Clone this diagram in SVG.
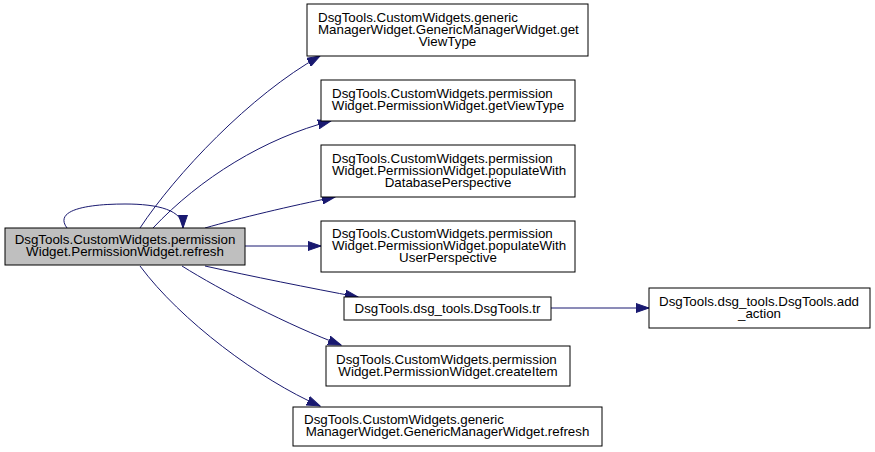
<svg xmlns="http://www.w3.org/2000/svg" width="875" height="452" viewBox="0 0 875 452">
<style>
.node rect{fill:#ffffff;stroke:#000000;stroke-width:1}
#main rect{fill:#bfbfbf}
text{font-family:"Liberation Sans",Arial,Helvetica,sans-serif;font-size:13.33px;fill:#000000}
.c{text-anchor:middle}
.edge path{fill:none;stroke:#191970;stroke-width:1}
</style>
<defs>
<marker id="ah" markerUnits="userSpaceOnUse" markerWidth="14" markerHeight="10" refX="13" refY="5" orient="auto">
<path d="M0,0.5 L13,5 L0,9.5 z" fill="#191970" stroke="#191970" stroke-width="1"/>
</marker>
</defs>
<rect width="875" height="452" fill="#ffffff"/>
<g id="connectors" class="edge">
<path d="M67,228 C52,208 95,204 125,204 C158,204 183,210 183,228" marker-end="url(#ah)"/>
<path d="M140,228 C175,175 250,95 320,56" marker-end="url(#ah)"/>
<path d="M153,228 C200,178 265,138 331,121" marker-end="url(#ah)"/>
<path d="M205,228 C240,218 290,206 335,197" marker-end="url(#ah)"/>
<path d="M245,246 L321,246" marker-end="url(#ah)"/>
<path d="M205,266 C250,276 310,288 358,297" marker-end="url(#ah)"/>
<path d="M182,266 C220,290 290,326 341,345" marker-end="url(#ah)"/>
<path d="M140,266 C180,320 260,380 320,406" marker-end="url(#ah)"/>
<path d="M551,308 L649,308" marker-end="url(#ah)"/>
</g>
<g id="main" class="node">
<rect x="5" y="228" width="240" height="37"/>
<text x="125" y="244" class="c">DsgTools.CustomWidgets.permission</text>
<text x="125" y="256" class="c">Widget.PermissionWidget.refresh</text>
</g>
<g id="n1" class="node">
<rect x="307" y="4" width="281" height="52"/>
<text x="318" y="21.5">DsgTools.CustomWidgets.generic</text>
<text x="318" y="33.5">ManagerWidget.GenericManagerWidget.get</text>
<text x="447.5" y="45.5" class="c">ViewType</text>
</g>
<g id="n2" class="node">
<rect x="321" y="80" width="254" height="41"/>
<text x="332" y="98">DsgTools.CustomWidgets.permission</text>
<text x="448" y="110" class="c">Widget.PermissionWidget.getViewType</text>
</g>
<g id="n3" class="node">
<rect x="321" y="145" width="254" height="52"/>
<text x="332" y="162.5">DsgTools.CustomWidgets.permission</text>
<text x="332" y="174.5">Widget.PermissionWidget.populateWith</text>
<text x="448" y="186.5" class="c">DatabasePerspective</text>
</g>
<g id="n4" class="node">
<rect x="321" y="221" width="254" height="51"/>
<text x="332" y="238">DsgTools.CustomWidgets.permission</text>
<text x="332" y="250">Widget.PermissionWidget.populateWith</text>
<text x="448" y="262" class="c">UserPerspective</text>
</g>
<g id="n5" class="node">
<rect x="344" y="297" width="207" height="23"/>
<text x="447.5" y="313" class="c">DsgTools.dsg_tools.DsgTools.tr</text>
</g>
<g id="n6" class="node">
<rect x="649" y="288" width="221" height="40"/>
<text x="659" y="305.5">DsgTools.dsg_tools.DsgTools.add</text>
<text x="759.5" y="317.5" class="c">_action</text>
</g>
<g id="n7" class="node">
<rect x="326" y="346" width="244" height="40"/>
<text x="336" y="363.5">DsgTools.CustomWidgets.permission</text>
<text x="448" y="375.5" class="c">Widget.PermissionWidget.createItem</text>
</g>
<g id="n8" class="node">
<rect x="293" y="407" width="309" height="39"/>
<text x="304" y="424">DsgTools.CustomWidgets.generic</text>
<text x="447.5" y="436" class="c">ManagerWidget.GenericManagerWidget.refresh</text>
</g>
</svg>
